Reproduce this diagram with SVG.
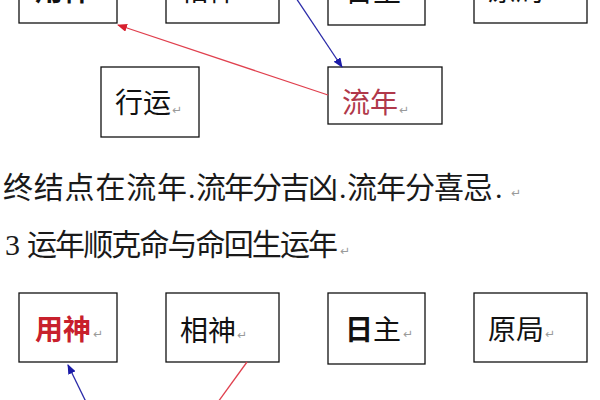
<svg xmlns="http://www.w3.org/2000/svg" width="600" height="400" viewBox="0 0 600 400">
<defs>
<style>
.box{fill:#fff;stroke:#111;stroke-width:1.3}
.lbl{font-family:"Noto Sans CJK SC","Noto Sans CJK TC",sans-serif;font-size:28px;fill:#111}
.para{font-family:"Liberation Serif","Noto Sans CJK SC",serif;font-size:30px;fill:#1a1a1a}
.ret{font-family:"DejaVu Sans",sans-serif;font-size:12px;fill:#9a9a9a}
.red{stroke:#e0404e;stroke-width:1.3;fill:none}
.blue{stroke:#2a2aa8;stroke-width:1.3;fill:none}
</style>
<marker id="ar" viewBox="0 0 10 8" refX="9" refY="4" markerWidth="10" markerHeight="8" markerUnits="userSpaceOnUse" orient="auto"><path d="M0,0 L10,4 L0,8 z" fill="#d8202e"/></marker>
<marker id="ab" viewBox="0 0 10 8" refX="9" refY="4" markerWidth="10" markerHeight="8" markerUnits="userSpaceOnUse" orient="auto"><path d="M0,0 L10,4 L0,8 z" fill="#1a1aa8"/></marker>
</defs>
<rect width="600" height="400" fill="#fff"/>

<g id="top-yongshen"><rect class="box" x="19" y="-46" width="98" height="69"/><text class="lbl" x="35" y="1" font-weight="bold">用神</text></g>
<g id="top-xiangshen"><rect class="box" x="166" y="-46" width="113" height="69"/><text class="lbl" x="180" y="1">相神</text></g>
<g id="top-rizhu"><rect class="box" x="328" y="-46" width="97" height="71"/><text class="lbl" x="345" y="2">日主</text></g>
<g id="top-yuanju"><rect class="box" x="474" y="-46" width="113" height="69"/><text class="lbl" x="488" y="1">原局</text></g>

<g id="xingyun"><rect class="box" x="101" y="67" width="98" height="70"/><text class="lbl" x="115" y="113">行运</text><text class="ret" x="172" y="114">↵</text></g>
<g id="liunian"><rect class="box" x="328" y="67" width="114" height="57"/><text class="lbl" x="342" y="113" style="fill:#b0384a">流年</text><text class="ret" x="399" y="114">↵</text></g>

<g id="line1">
<text class="para" y="198"><tspan x="3" textLength="184" lengthAdjust="spacing">终结点在流年</tspan><tspan x="188">.</tspan><tspan x="196" textLength="142" lengthAdjust="spacing">流年分吉凶</tspan><tspan x="339">.</tspan><tspan x="347" textLength="146" lengthAdjust="spacing">流年分喜忌</tspan><tspan x="495">.</tspan></text>
<text class="ret" x="511" y="197">↵</text>
</g>
<g id="line2">
<text class="para" y="255"><tspan x="5">3</tspan><tspan x="27" textLength="311" lengthAdjust="spacing">运年顺克命与命回生运年</tspan></text>
<text class="ret" x="340" y="255">↵</text>
</g>

<g id="yongshen"><rect class="box" x="19" y="293" width="98" height="69"/><text class="lbl" x="35" y="340" font-weight="bold" style="fill:#c8202c">用神</text><text class="ret" x="93" y="338">↵</text></g>
<g id="xiangshen"><rect class="box" x="166" y="293" width="113" height="69"/><text class="lbl" x="180" y="341">相神</text><text class="ret" x="237" y="339">↵</text></g>
<g id="rizhu"><rect class="box" x="328" y="293" width="97" height="71"/><text class="lbl" x="345" y="340"><tspan font-weight="bold">日</tspan>主</text><text class="ret" x="403" y="338">↵</text></g>
<g id="yuanju"><rect class="box" x="474" y="293" width="113" height="69"/><text class="lbl" x="488" y="340">原局</text><text class="ret" x="545" y="338">↵</text></g>

<g id="connectors">
<line class="red" x1="328" y1="95" x2="118" y2="25" marker-end="url(#ar)"/>
<line class="blue" x1="296" y1="-2" x2="342" y2="67" marker-end="url(#ab)"/>
<line class="blue" x1="88" y1="406" x2="68" y2="365" marker-end="url(#ab)"/>
<line class="red" x1="247" y1="362" x2="218" y2="402"/>
</g>
</svg>
